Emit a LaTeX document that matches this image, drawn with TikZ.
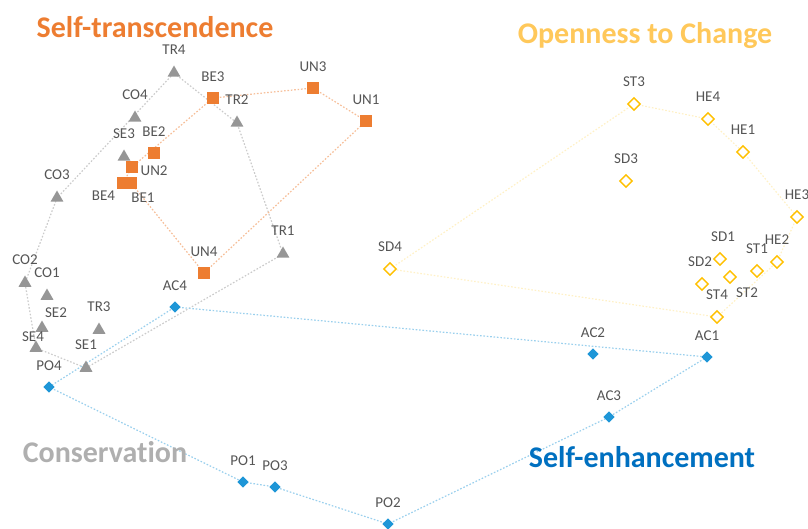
\documentclass[tikz,border=0pt]{standalone}
\usepackage{fontspec}
\setmainfont{Carlito}[Ligatures=NoCommon]
\usetikzlibrary{shapes.geometric,backgrounds}

\definecolor{transcol}{RGB}{237,125,49}
\definecolor{opencol}{RGB}{255,192,0}
\definecolor{opentitle}{RGB}{255,200,90}
\definecolor{conscol}{RGB}{150,150,150}
\definecolor{constitle}{RGB}{175,175,175}
\definecolor{enhcol}{RGB}{30,150,215}
\definecolor{enhtitle}{RGB}{0,112,192}
\definecolor{labcol}{RGB}{85,85,85}

\begin{document}
\begin{tikzpicture}[
		x=1pt, y=-1pt
		,lbl/.style={font=\fontsize{15}{15}\selectfont, text=labcol, inner sep=0pt}
		,every label/.style={lbl}
		,label distance=10pt
		,tri/.style={regular polygon, regular polygon sides=3, fill=conscol, minimum size=15pt, inner sep=0pt}
		,sq/.style={fill=transcol, minimum size=12.5pt, inner sep=0pt}
		,dia/.style={diamond, fill=enhcol, minimum size=11.5pt, inner sep=0pt}
		,odia/.style={diamond, draw=opencol, line width=1.4pt, fill=white, minimum size=13pt, inner sep=0pt}
		,hull/.style={line width=1.2pt, dash pattern=on 1.6pt off 1.8pt}
		,title/.style={font=\fontsize{30}{30}\selectfont\bfseries, inner sep=0pt}
	]
		\useasboundingbox (0,0) rectangle (808,529);

		% titles
		\node[title, text=transcol] (ttrans) at (155,27) {Self-transcendence};
		\node[title, text=opentitle] (topen) at (645,36) {Openness to Change};
		\node[title, text=constitle] (tcons) at (105,452) {Conservation};
		\node[title, text=enhtitle] (tenh) at (642,457) {Self-enhancement};

		% conservation
		\node[tri, label=above:TR4] (TR4) at (174,73) {};
		\node[tri, label=above:TR2] (TR2) at (237,123) {};
		\node[tri, label=above:TR1] (TR1) at (283,254) {};
		\node[tri, label=above:TR3] (TR3) at (99,330) {};
		\node[tri, label=above:CO4] (CO4) at (135,118) {};
		\node[tri, label=above:CO3] (CO3) at (57,198) {};
		\node[tri, label=above:CO2] (CO2) at (25,283) {};
		\node[tri, label=above:CO1] (CO1) at (47,296) {};
		\node[tri, label=above:SE3] (SE3) at (124,157) {};
		\node[tri, label={[xshift=14pt, label distance=2pt]above:SE2}] (SE2) at (42,328) {};
		\node[tri, label={[xshift=-3pt, label distance=-2pt]above:SE4}] (SE4) at (36,348) {};
		\node[tri, label=above:SE1] (SE1) at (86,368) {};

		% self-transcendence
		\node[sq, label=above:BE3] (BE3) at (213,98) {};
		\node[sq, label=above:UN3] (UN3) at (313,88) {};
		\node[sq, label=above:UN1] (UN1) at (366,121) {};
		\node[sq, label=above:BE2] (BE2) at (154,153) {};
		\node[sq, label={[label distance=2pt, yshift=-4pt]right:UN2}] (UN2) at (132,167) {};
		\node[sq, label={[label distance=2pt]below left:BE4}] (BE4) at (123,183) {};
		\node[sq, label={[xshift=12pt, label distance=3pt]below:BE1}] (BE1) at (131,183) {};
		\node[sq, label=above:UN4] (UN4) at (204,273) {};

		% self-enhancement
		\node[dia, label=above:AC4] (AC4) at (175,307) {};
		\node[dia, label=above:AC2] (AC2) at (593,354) {};
		\node[dia, label=above:AC1] (AC1) at (707,357) {};
		\node[dia, label=above:AC3] (AC3) at (609,417) {};
		\node[dia, label=above:PO4] (PO4) at (49,387) {};
		\node[dia, label=above:PO1] (PO1) at (243,482) {};
		\node[dia, label=above:PO3] (PO3) at (275,487) {};
		\node[dia, label=above:PO2] (PO2) at (388,524) {};

		% openness to change
		\node[odia, label=above:ST3] (ST3) at (634,104) {};
		\node[odia, label=above:HE4] (HE4) at (708,119) {};
		\node[odia, label=above:HE1] (HE1) at (743,152) {};
		\node[odia, label=above:SD3] (SD3) at (626,181) {};
		\node[odia, label=above:HE3] (HE3) at (797,217) {};
		\node[odia, label=above:SD4] (SD4) at (390,269) {};
		\node[odia, label={[xshift=3pt]above:SD1}] (SD1) at (720,259) {};
		\node[odia, label={[xshift=-2pt]above:SD2}] (SD2) at (702,284) {};
		\node[odia, label=above:ST1] (ST1) at (757,271) {};
		\node[odia, label=above:HE2] (HE2) at (777,262) {};
		\node[odia, label={[xshift=17pt, label distance=3pt]below:ST2}] (ST2) at (730,277) {};
		\node[odia, label=above:ST4] (ST4) at (717,317) {};

		\begin{scope}[on background layer]
			\draw[hull, color=conscol!50] (TR4.center) -- (TR2.center) -- (TR1.center) -- (SE1.center)
				-- (SE4.center) -- (CO2.center) -- (CO3.center) -- (TR4.center);
			\draw[hull, color=transcol!50] (BE3.center) -- (UN3.center) -- (UN1.center) -- (UN4.center)
				-- (BE1.center) -- (BE4.center) -- (UN2.center) -- (BE3.center);
			\draw[hull, color=enhcol!45] (PO4.center) -- (AC4.center) -- (AC1.center) -- (AC3.center)
				-- (PO2.center) -- (PO3.center) -- (PO1.center) -- (PO4.center);
			\draw[hull, color=opencol!22] (SD4.center) -- (ST3.center) -- (HE4.center) -- (HE1.center)
				-- (HE3.center) -- (HE2.center) -- (ST4.center) -- (SD4.center);
		\end{scope}
	\end{tikzpicture}
\end{document}
